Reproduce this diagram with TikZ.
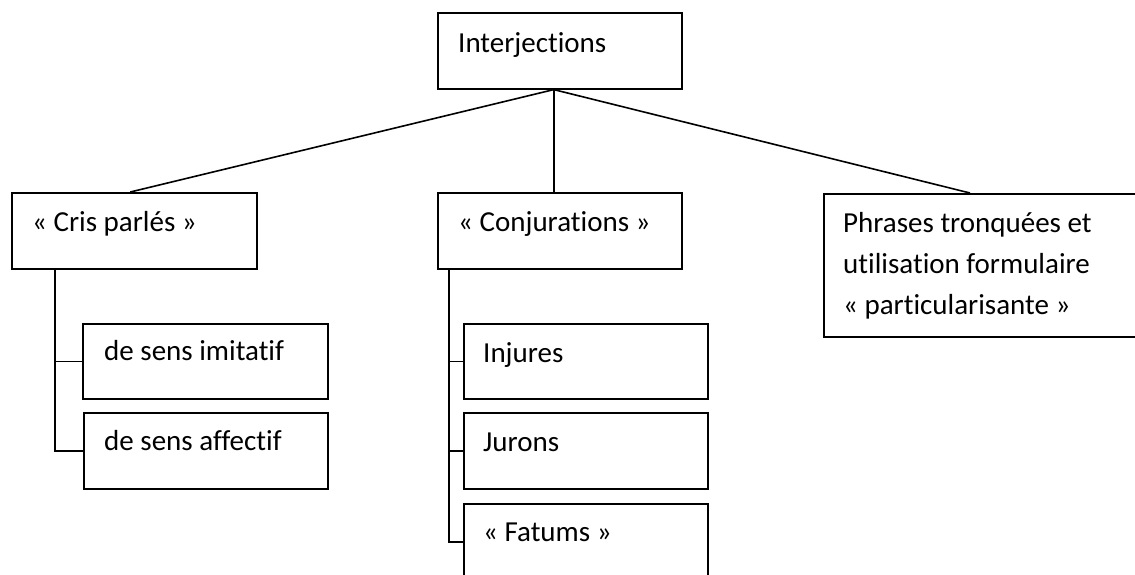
\documentclass[tikz,border=0pt]{standalone}
\usepackage{fontspec}
\setmainfont[Ligatures=NoCommon]{Carlito}
\begin{document}
\begin{tikzpicture}[x=1pt,y=-1pt,
  box/.style={draw, line width=1.6pt, rectangle, inner sep=0pt, anchor=north west},
  lbl/.style={anchor=base west, inner sep=0pt, font=\fontsize{29}{41}\selectfont, align=left},
  link/.style={line width=1.6pt}]
\useasboundingbox (0,0) rectangle (1135,574);
\clip (0,0) rectangle (1135,574);
% boxes
\node[box, minimum width=244pt, minimum height=76pt] (root) at (437,12) {};
\node[box, minimum width=245pt, minimum height=76pt] (cris) at (11,192) {};
\node[box, minimum width=244pt, minimum height=76pt] (conj) at (437,192) {};
\node[box, minimum width=330pt, minimum height=143pt] (phr) at (823,193) {};
\node[box, minimum width=245pt, minimum height=75pt] (imi) at (82,323) {};
\node[box, minimum width=244pt, minimum height=76pt] (aff) at (83,412) {};
\node[box, minimum width=244pt, minimum height=75pt] (inj) at (463,323) {};
\node[box, minimum width=244pt, minimum height=76pt] (jur) at (463,412) {};
\node[box, minimum width=244pt, minimum height=76pt] (fat) at (463,503) {};
% labels
\node[lbl] (troot) at ([xshift=21pt,yshift=-40pt]root.north west) {Interjections};
\node[lbl] (tcris) at ([xshift=21pt,yshift=-39pt]cris.north west) {« Cris parlés »};
\node[lbl] (tconj) at ([xshift=21pt,yshift=-39pt]conj.north west) {« Conjurations »};
\node[lbl, anchor=north west] (tphr) at ([xshift=20pt,yshift=-19pt]phr.north west) {Phrases tronquées et\\utilisation formulaire\\« particularisante »};
\node[lbl] (timi) at ([xshift=22pt,yshift=-37pt]imi.north west) {de sens imitatif};
\node[lbl] (taff) at ([xshift=21pt,yshift=-38pt]aff.north west) {de sens affectif};
\node[lbl] (tinj) at ([xshift=20pt,yshift=-39pt]inj.north west) {Injures};
\node[lbl] (tjur) at ([xshift=20pt,yshift=-39pt]jur.north west) {Jurons};
\node[lbl] (tfat) at ([xshift=20pt,yshift=-38pt]fat.north west) {« Fatums »};
% branches from the root
\coordinate (hub) at ([xshift=-6pt]root.south);
\draw[link] (hub) -- ([xshift=-4pt]cris.north);
\draw[link] (hub) -- ([xshift=-6pt]conj.north);
\draw[link] (hub) -- ([xshift=147pt]phr.north west);
% sub-branches
\coordinate (crisT) at ([xshift=44pt]cris.south west);
\draw[link] (crisT) |- (aff.west);
\draw[link] (imi.west) -| (crisT);
\coordinate (conjT) at ([xshift=12pt]conj.south west);
\draw[link] (conjT) |- (fat.west);
\draw[link] (inj.west) -| (conjT);
\draw[link] (jur.west) -| (conjT);
\end{tikzpicture}
\end{document}
